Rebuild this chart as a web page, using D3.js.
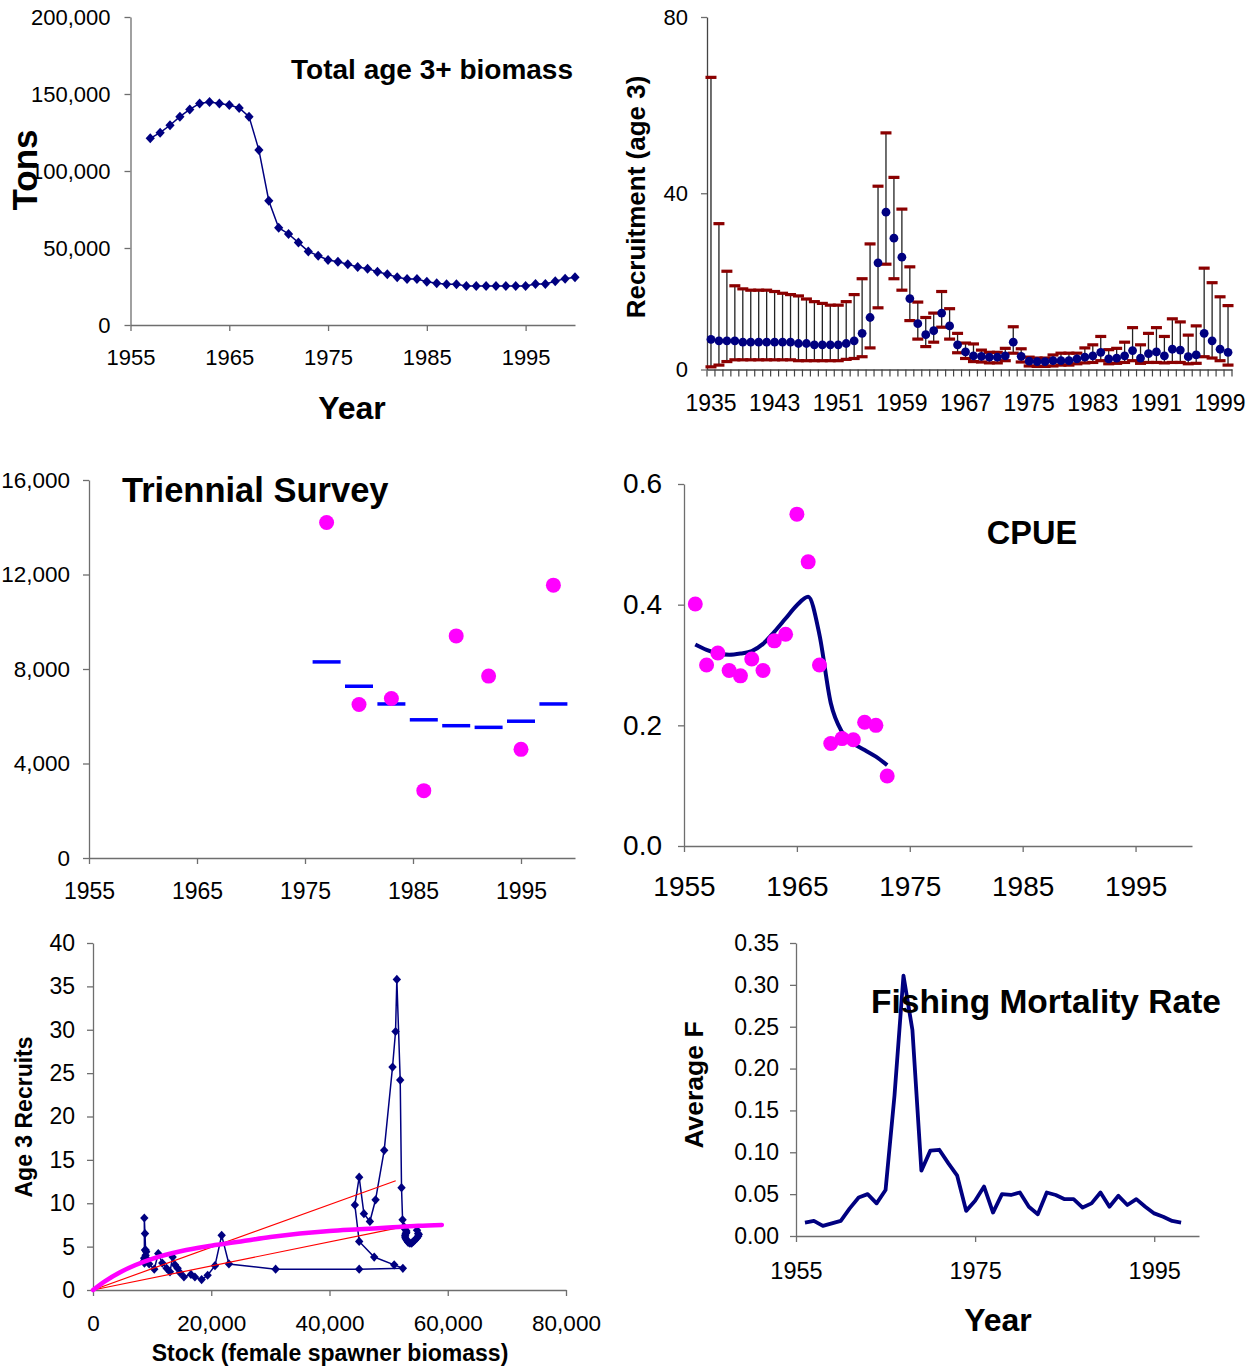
<!DOCTYPE html>
<html><head><meta charset="utf-8">
<script src="https://cdn.jsdelivr.net/npm/d3@7"></script>
<style>body{margin:0;background:#fff}svg{display:block}</style>
</head><body><svg id="c" width="1250" height="1369"></svg>
<script>
// ---------- Panel 1: total age 3+ biomass ----------
const biomassYears=[1957,1958,1959,1960,1961,1962,1963,1964,1965,1966,1967,1968,1969,1970,1971,1972,1973,1974,1975,1976,1977,1978,1979,1980,1981,1982,1983,1984,1985,1986,1987,1988,1989,1990,1991,1992,1993,1994,1995,1996,1997,1998,1999,2000];
const biomassTons=[121200,124900,129700,135300,140000,143900,144800,143900,142900,140900,135300,113600,80700,63200,59100,53500,47800,45000,42200,41100,39400,37700,36600,34600,32900,31000,29900,29900,28100,27100,26400,26400,25300,25300,25300,25300,25300,25300,25300,26600,26600,28400,30100,31000];
const biomassYearTicks=[1955,1965,1975,1985,1995];
const biomassTonTicks=[0,50000,100000,150000,200000];

// ---------- Panel 2: recruitment with intervals ----------
const recYears=[1935,1936,1937,1938,1939,1940,1941,1942,1943,1944,1945,1946,1947,1948,1949,1950,1951,1952,1953,1954,1955,1956,1957,1958,1959,1960,1961,1962,1963,1964,1965,1966,1967,1968,1969,1970,1971,1972,1973,1974,1975,1976,1977,1978,1979,1980,1981,1982,1983,1984,1985,1986,1987,1988,1989,1990,1991,1992,1993,1994,1995,1996,1997,1998,1999,2000];
const recMid=[6.85,6.5,6.5,6.5,6.2,6.2,6.2,6.2,6.2,6.2,6.2,5.9,5.9,5.6,5.6,5.6,5.6,5.9,6.5,8.2,11.8,24.2,35.7,29.8,25.5,16.1,10.4,7.9,8.8,12.8,9.9,5.6,4.0,3.1,3.0,2.8,2.8,3.1,6.2,3.0,1.9,1.8,1.8,2.0,2.0,2.0,2.4,2.8,3.1,3.9,2.4,2.6,3.1,4.3,2.6,3.6,4.0,3.1,4.6,4.4,2.9,3.3,8.2,6.5,4.6,3.9];
const recUpper=[66.3,33.1,22.3,19.0,18.3,18.0,18.0,18.0,17.7,17.3,17.0,16.7,16.0,15.4,15.0,14.6,14.6,15.4,17.0,20.6,28.5,41.6,53.7,43.6,36.4,23.3,15.3,11.8,12.8,17.7,13.8,8.2,6.0,5.8,4.4,3.9,3.9,4.8,9.7,4.7,2.8,2.6,2.6,3.3,3.7,3.7,3.7,4.9,5.6,7.5,4.5,4.8,6.2,9.5,5.6,8.2,9.5,7.5,11.5,10.8,7.8,9.9,23.0,19.7,16.5,14.5];
const recLower=[0.6,1.0,1.8,2.2,2.2,2.2,2.2,2.2,2.2,2.2,2.2,2.0,2.0,2.0,2.0,2.0,2.0,2.3,2.5,2.9,4.9,14.0,23.9,20.6,18.0,11.1,6.9,5.2,6.2,9.6,6.9,3.8,2.5,1.8,1.7,1.5,1.5,2.0,3.7,1.7,0.8,0.7,0.7,0.8,1.0,1.0,1.3,1.5,1.6,2.0,1.3,1.4,1.6,2.0,1.4,1.6,1.6,1.5,1.6,1.6,1.3,1.4,2.9,2.6,2.0,1.0];
const recTicks=[0,40,80];
const recYearLabels=[1935,1943,1951,1959,1967,1975,1983,1991,1999];

// ---------- Panel 3: triennial survey ----------
const survYears=[1977,1980,1983,1986,1989,1992,1995,1998];
const survObs=[14200,6500,6750,2850,9400,7700,4600,11550];
const survPred=[8300,7270,6520,5850,5600,5530,5790,6520];
const survTicks=[0,4000,8000,12000,16000];
const survYearTicks=[1955,1965,1975,1985,1995];

// ---------- Panel 4: CPUE ----------
const cpueYears=[1956,1957,1958,1959,1960,1961,1962,1963,1964,1965,1966,1967,1968,1969,1970,1971,1972,1973];
const cpueObs=[0.401,0.300,0.320,0.291,0.282,0.310,0.291,0.340,0.351,0.550,0.471,0.300,0.170,0.178,0.176,0.205,0.200,0.116];
const cpueFit=[0.334,0.325,0.319,0.317,0.319,0.323,0.335,0.355,0.377,0.399,0.413,0.350,0.237,0.189,0.170,0.159,0.148,0.134];
const cpueTicks=[0,0.2,0.4,0.6];
const cpueYearTicks=[1955,1965,1975,1985,1995];

// ---------- Panel 5: stock-recruitment ----------
const srStock=[54800,55000,55100,55000,54800,54500,54200,53900,53600,53300,53100,52900,52800,52800,52900,53000,53000,52800,52600,52360,52180,51960,51390,51170,50660,49250,47790,46830,45820,45020,44290,45020,47560,50940,52410,45020,30890,22990,21760,20630,19390,18370,17240,16570,15380,14710,14310,13860,13470,13020,12450,11720,11040,10360,9500,9100,8900,8700,9000,8800,8600,8700,8680,8790,8900,8680];
const srRecruits=[6.9,6.5,6.4,6.2,6.0,5.8,5.6,5.4,5.4,5.5,5.7,5.9,6.1,6.3,6.5,6.6,6.8,7.0,7.3,8.1,11.8,24.2,35.8,29.8,25.7,16.1,10.4,7.9,8.8,13.0,9.8,5.6,3.8,2.9,2.5,2.4,2.4,3.0,6.3,2.8,1.7,1.2,1.5,1.8,1.5,2.0,2.5,2.9,3.8,2.1,2.5,3.1,4.2,2.4,3.0,3.6,4.0,3.1,4.4,4.6,3.3,3.6,8.3,6.5,4.6,3.7];
const bhStock=[0,2000,5000,10000,15000,20000,25000,30000,35000,40000,45000,50000,55000,59000];
const bhRecruits=[0,1.0,2.2,3.6,4.5,5.1,5.6,6.1,6.5,6.8,7.0,7.2,7.4,7.5];
const refStock=[0,51200];
const refUpper=[0,12.6];
const refLower=[0,7.1];
const srYTicks=[0,5,10,15,20,25,30,35,40];
const srXTicks=[0,20000,40000,60000,80000];

// ---------- Panel 6: fishing mortality ----------
const fYears=[1956,1957,1958,1959,1960,1961,1962,1963,1964,1965,1966,1967,1968,1969,1970,1971,1972,1973,1974,1975,1976,1977,1978,1979,1980,1981,1982,1983,1984,1985,1986,1987,1988,1989,1990,1991,1992,1993,1994,1995,1996,1997,1998];
const fValues=[0.016,0.018,0.012,0.015,0.018,0.033,0.046,0.050,0.039,0.055,0.168,0.311,0.246,0.078,0.102,0.103,0.087,0.072,0.030,0.042,0.059,0.028,0.050,0.049,0.052,0.035,0.026,0.052,0.049,0.044,0.044,0.034,0.039,0.052,0.035,0.048,0.037,0.044,0.035,0.027,0.023,0.018,0.016];
const fTicks=[0,0.05,0.10,0.15,0.20,0.25,0.30,0.35];
const fYearTicks=[1955,1975,1995];

// ================= drawing =================
const FONT='"Liberation Sans", Arial, Helvetica, sans-serif';
const AXC='#6e6e6e';
const svg=d3.select('#c');
svg.append('rect').attr('width',1250).attr('height',1369).attr('fill','#fff');

function styleAxis(g,fs){
  g.attr('font-family',FONT).attr('font-size',fs);
  g.select('.domain').attr('stroke',AXC).attr('stroke-width',1.3);
  g.selectAll('.tick line').attr('stroke',AXC).attr('stroke-width',1.3);
  g.selectAll('.tick text').attr('fill','#000');
}
function label(txt,x,y,fs,opts={}){
  const t=svg.append('text').text(txt).attr('font-family',FONT).attr('font-size',fs)
    .attr('font-weight',opts.bold?'bold':'normal').attr('fill','#000')
    .attr('text-anchor',opts.anchor||'start');
  if(opts.rot){t.attr('transform',`translate(${x},${y}) rotate(-90)`);} else {t.attr('x',x).attr('y',y);}
  return t;
}
function diamond(g,data,xs,ys,hw,hh,color){
  g.selectAll(null).data(data).join('path')
    .attr('transform',d=>`translate(${xs(d[0])},${ys(d[1])})`)
    .attr('d',`M0,${-hh}L${hw},0L0,${hh}L${-hw},0Z`).attr('fill',color);
}

// ---- Panel 1 ----
{
  const x=d3.scaleLinear().domain([1955,2000]).range([130.5,575]);
  const y=d3.scaleLinear().domain([0,200000]).range([325,17]);
  svg.append('g').attr('transform','translate(0,325)')
    .call(d3.axisBottom(x).tickValues(biomassYearTicks).tickFormat(d3.format('d')).tickSize(6).tickSizeOuter(0).tickPadding(18))
    .call(styleAxis,22);
  svg.append('g').attr('transform','translate(130.5,0)')
    .call(d3.axisLeft(y).tickValues(biomassTonTicks).tickFormat(d3.format(',')).tickSize(6).tickSizeOuter(0).tickPadding(14))
    .call(styleAxis,22);
  const pts=biomassYears.map((d,i)=>[d,biomassTons[i]]);
  svg.append('path').datum(pts).attr('fill','none').attr('stroke','#000080').attr('stroke-width',1.5)
    .attr('d',d3.line().x(d=>x(d[0])).y(d=>y(d[1])));
  diamond(svg.append('g'),pts,x,y,4.6,5,'#000080');
  label('Total age 3+ biomass',573,79,28,{bold:true,anchor:'end'});
  label('Year',352,419,32,{bold:true,anchor:'middle'});
  label('Tons',37,170,35,{bold:true,anchor:'middle',rot:true});
}

// ---- Panel 2 ----
{
  const x=d3.scaleBand().domain(recYears).range([707,1232]);
  const y=d3.scaleLinear().domain([0,80]).range([369.5,17]);
  const bw=x.bandwidth();
  const gx=svg.append('g').attr('transform','translate(0,369.5)')
    .call(d3.axisBottom(x).tickValues(recYearLabels).tickSize(0).tickSizeOuter(0).tickPadding(25))
    .call(styleAxis,23);
  gx.select('.domain').attr('stroke','#444');
  const bounds=recYears.map(d=>x(d)).concat([x.range()[1]]);
  svg.append('g').selectAll('line').data(bounds).join('line')
    .attr('x1',d=>d).attr('x2',d=>d).attr('y1',369.5).attr('y2',376.5)
    .attr('stroke','#444').attr('stroke-width',1.2);
  const gy=svg.append('g').attr('transform','translate(707,0)')
    .call(d3.axisLeft(y).tickValues(recTicks).tickSize(6).tickSizeOuter(0).tickPadding(13))
    .call(styleAxis,22);
  gy.select('.domain').attr('stroke','#444');
  const rows=recYears.map((d,i)=>({yr:d,m:recMid[i],u:recUpper[i],l:recLower[i]}));
  const cx=d=>x(d.yr)+bw/2;
  svg.append('g').selectAll('line').data(rows).join('line')
    .attr('x1',cx).attr('x2',cx).attr('y1',d=>y(d.l)).attr('y2',d=>y(d.u))
    .attr('stroke','#222').attr('stroke-width',1.3);
  const caps=svg.append('g');
  caps.selectAll('.cu').data(rows).join('rect').attr('class','cu')
    .attr('x',d=>cx(d)-5.5).attr('y',d=>y(d.u)-1.6).attr('width',11).attr('height',3.2).attr('fill','#8b0000');
  caps.selectAll('.cl').data(rows).join('rect').attr('class','cl')
    .attr('x',d=>cx(d)-5.5).attr('y',d=>y(d.l)-1.6).attr('width',11).attr('height',3.2).attr('fill','#8b0000');
  svg.append('g').selectAll('circle').data(rows).join('circle')
    .attr('cx',cx).attr('cy',d=>y(d.m)).attr('r',4.4).attr('fill','#000080');
  label('Recruitment (age 3)',645,197,26,{bold:true,anchor:'middle',rot:true});
}

// ---- Panel 3 ----
{
  const x=d3.scaleLinear().domain([1955,2000]).range([89,575]);
  const y=d3.scaleLinear().domain([0,16000]).range([858,480]);
  svg.append('g').attr('transform','translate(0,858)')
    .call(d3.axisBottom(x).tickValues(survYearTicks).tickFormat(d3.format('d')).tickSize(6).tickSizeOuter(0).tickPadding(19))
    .call(styleAxis,23);
  svg.append('g').attr('transform','translate(89,0)')
    .call(d3.axisLeft(y).tickValues(survTicks).tickFormat(d3.format(',')).tickSize(6).tickSizeOuter(0).tickPadding(13))
    .call(styleAxis,22.5);
  svg.append('g').selectAll('line').data(survYears.map((d,i)=>[d,survPred[i]])).join('line')
    .attr('x1',d=>x(d[0])-14).attr('x2',d=>x(d[0])+14).attr('y1',d=>y(d[1])).attr('y2',d=>y(d[1]))
    .attr('stroke','#0000ff').attr('stroke-width',3.5);
  svg.append('g').selectAll('circle').data(survYears.map((d,i)=>[d,survObs[i]])).join('circle')
    .attr('cx',d=>x(d[0])).attr('cy',d=>y(d[1])).attr('r',7.5).attr('fill','#ff00ff');
  label('Triennial Survey',122,502,34.5,{bold:true});
}

// ---- Panel 4 ----
{
  const x=d3.scaleLinear().domain([1955,2000]).range([684,1192]);
  const y=d3.scaleLinear().domain([0,0.6]).range([846,484]);
  svg.append('g').attr('transform','translate(0,846)')
    .call(d3.axisBottom(x).tickValues(cpueYearTicks).tickFormat(d3.format('d')).tickSize(6).tickSizeOuter(0).tickPadding(24))
    .call(styleAxis,28);
  svg.append('g').attr('transform','translate(684,0)')
    .call(d3.axisLeft(y).tickValues(cpueTicks).tickFormat(d3.format('.1f')).tickSize(6).tickSizeOuter(0).tickPadding(16))
    .call(styleAxis,28);
  svg.append('path').datum(cpueYears.map((d,i)=>[d,cpueFit[i]])).attr('fill','none')
    .attr('stroke','#000080').attr('stroke-width',4).attr('stroke-linejoin','round')
    .attr('d',d3.line().x(d=>x(d[0])).y(d=>y(d[1])).curve(d3.curveMonotoneX));
  svg.append('g').selectAll('circle').data(cpueYears.map((d,i)=>[d,cpueObs[i]])).join('circle')
    .attr('cx',d=>x(d[0])).attr('cy',d=>y(d[1])).attr('r',7.5).attr('fill','#ff00ff');
  label('CPUE',1032,544,32.5,{bold:true,anchor:'middle'});
}

// ---- Panel 5 ----
{
  const x=d3.scaleLinear().domain([0,80000]).range([93,566]);
  const y=d3.scaleLinear().domain([0,40]).range([1290,943]);
  svg.append('g').attr('transform','translate(0,1290)')
    .call(d3.axisBottom(x).tickValues(srXTicks).tickFormat(d3.format(',')).tickSize(6).tickSizeOuter(0).tickPadding(19))
    .call(styleAxis,22.5);
  svg.append('g').attr('transform','translate(93,0)')
    .call(d3.axisLeft(y).tickValues(srYTicks).tickSize(6).tickSizeOuter(0).tickPadding(12))
    .call(styleAxis,23);
  const ln=d3.line().x(d=>x(d[0])).y(d=>y(d[1]));
  const sr=srStock.map((d,i)=>[d,srRecruits[i]]);
  svg.append('path').datum(sr).attr('fill','none').attr('stroke','#000080').attr('stroke-width',1.5).attr('d',ln);
  diamond(svg.append('g'),sr,x,y,4.2,4.6,'#000080');
  svg.append('path').datum(refStock.map((d,i)=>[d,refUpper[i]])).attr('fill','none').attr('stroke','#ff0000').attr('stroke-width',1.2).attr('d',ln);
  svg.append('path').datum(refStock.map((d,i)=>[d,refLower[i]])).attr('fill','none').attr('stroke','#ff0000').attr('stroke-width',1.2).attr('d',ln);
  svg.append('path').datum(bhStock.map((d,i)=>[d,bhRecruits[i]])).attr('fill','none').attr('stroke','#ff00ff').attr('stroke-width',4.5)
    .attr('stroke-linecap','round').attr('d',ln.curve(d3.curveMonotoneX));
  label('Stock (female spawner biomass)',330,1361,23,{bold:true,anchor:'middle'});
  label('Age 3 Recruits',32,1117,23,{bold:true,anchor:'middle',rot:true});
}

// ---- Panel 6 ----
{
  const x=d3.scaleLinear().domain([1955,2000]).range([796,1199]);
  const y=d3.scaleLinear().domain([0,0.35]).range([1236,943]);
  svg.append('g').attr('transform','translate(0,1236)')
    .call(d3.axisBottom(x).tickValues(fYearTicks).tickFormat(d3.format('d')).tickSize(6).tickSizeOuter(0).tickPadding(20))
    .call(styleAxis,23.5);
  svg.append('g').attr('transform','translate(796,0)')
    .call(d3.axisLeft(y).tickValues(fTicks).tickFormat(d3.format('.2f')).tickSize(6).tickSizeOuter(0).tickPadding(11))
    .call(styleAxis,23);
  svg.append('path').datum(fYears.map((d,i)=>[d,fValues[i]])).attr('fill','none')
    .attr('stroke','#000080').attr('stroke-width',3.8).attr('stroke-linejoin','round')
    .attr('d',d3.line().x(d=>x(d[0])).y(d=>y(d[1])));
  label('Fishing Mortality Rate',871,1013,33.5,{bold:true});
  label('Year',998,1331,32,{bold:true,anchor:'middle'});
  label('Average F',703,1085,26.5,{bold:true,anchor:'middle',rot:true});
}
</script></body></html>
